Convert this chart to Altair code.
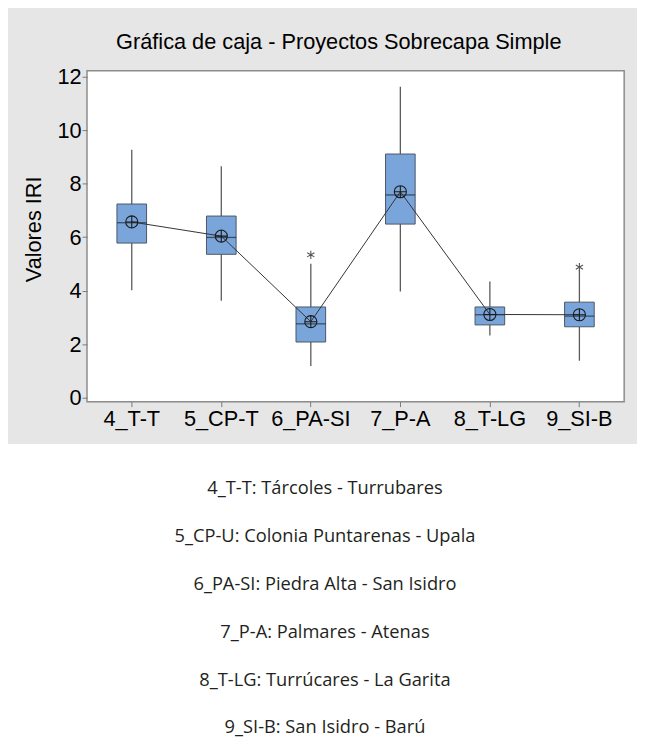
import altair as alt
import pandas as pd

cats = ["4_T-T", "5_CP-T", "6_PA-SI", "7_P-A", "8_T-LG", "9_SI-B"]
whisk_lo = [4.02, 3.62, 1.18, 3.97, 2.32, 1.38]
q1 = [5.78, 5.36, 2.08, 6.49, 2.72, 2.65]
median = [6.54, 5.99, 2.76, 7.58, 3.10, 3.05]
q3 = [7.24, 6.79, 3.39, 9.11, 3.39, 3.57]
whisk_hi = [9.27, 8.65, 5.01, 11.63, 4.34, 4.78]
mean = [6.57, 6.04, 2.84, 7.70, 3.11, 3.10]
out_cat = ["6_PA-SI", "9_SI-B"]
out_val = [5.34, 4.88]
legend_lines = [
    "4_T-T: Tárcoles - Turrubares",
    "5_CP-U: Colonia Puntarenas - Upala",
    "6_PA-SI: Piedra Alta - San Isidro",
    "7_P-A: Palmares - Atenas",
    "8_T-LG: Turrúcares - La Garita",
    "9_SI-B: San Isidro - Barú",
]

df = pd.DataFrame(dict(cat=cats, lo=whisk_lo, q1=q1, med=median, q3=q3, hi=whisk_hi, mean=mean))
df_out = pd.DataFrame(dict(cat=out_cat, val=out_val))
df_txt = pd.DataFrame(dict(line=list(range(len(legend_lines))), txt=legend_lines))
one = pd.DataFrame({"a": [0]})

FONT = "Liberation Sans"
W, H = 544, 335

X = alt.X("cat:N", sort=cats, title=None,
          scale=alt.Scale(paddingInner=0, paddingOuter=0),
          axis=alt.Axis(labelAngle=0, labelFont=FONT, labelFontSize=22, labelColor="black",
                        tickColor="#7a7a7a", tickSize=5, labelPadding=2, domain=False,
                        grid=False, zindex=1))
yscale = alt.Scale(domain=[-0.15, 12.22], nice=False, zero=False)
yaxis = alt.Axis(values=[0, 2, 4, 6, 8, 10, 12], labelFont=FONT, labelFontSize=22,
                 labelColor="black", tickColor="#7a7a7a", tickSize=5, labelPadding=1,
                 domain=False, grid=False, titleFont=FONT, titleFontSize=22,
                 titleFontWeight="normal", titleColor="black", titlePadding=12,
                 titleY=160, zindex=1)


def Y(field):
    return alt.Y(field, scale=yscale, axis=yaxis, title="Valores IRI")


base = alt.Chart(df)

# white area below the grey panel (canvas background is grey)
white_below = alt.Chart(one).mark_rect(color="white").encode(
    x=alt.value(-90), x2=alt.value(570), y=alt.value(378), y2=alt.value(720))
frame = alt.Chart(one).mark_rect(fill="white", stroke="#8c8c8c", strokeWidth=1.5).encode(
    x=alt.value(0), x2=alt.value(W), y=alt.value(0), y2=alt.value(H))

whisk1 = base.mark_rule(color="#5a5a5a", strokeWidth=1.3).encode(x=X, y=Y("lo:Q"), y2="q1:Q")
whisk2 = base.mark_rule(color="#5a5a5a", strokeWidth=1.3).encode(x=X, y=Y("q3:Q"), y2="hi:Q")
boxes = base.mark_bar(size=30, color="#7aa5da", stroke="#4a5666", strokeWidth=1).encode(
    x=X, y=Y("q1:Q"), y2="q3:Q")
meds = base.mark_tick(size=30, thickness=1.3, color="#1e2a36").encode(x=X, y=Y("med:Q"))
mline = base.mark_line(color="#333333", strokeWidth=1).encode(x=X, y=Y("mean:Q"))
msym = base.mark_point(
    shape="M1,0A1,1 0 1,1 -1,0A1,1 0 1,1 1,0M-1,0L1,0M0,-1L0,1",
    size=150, filled=False, color="#1a1a1a", strokeWidth=1.1, opacity=1).encode(
    x=X, y=Y("mean:Q"))
outl = alt.Chart(df_out).mark_point(
    shape="M0,-1L0,1M-0.87,-0.5L0.87,0.5M-0.87,0.5L0.87,-0.5",
    size=70, filled=False, color="#555555", strokeWidth=1.1, opacity=1).encode(
    x=X, y=Y("val:Q"))

inner = alt.layer(whisk1, whisk2, boxes, meds, mline, msym, outl)

txt = alt.Chart(df_txt).mark_text(font="Open Sans", fontSize=18.5, color="#231f20",
                                  align="center", baseline="middle").encode(
    x=alt.value(241),
    y=alt.Y("line:Q", scale=alt.Scale(domain=[0, 5], range=[423, 665]), axis=None),
    text="txt:N")

chart = alt.layer(white_below, frame, inner, txt).resolve_scale(y="independent").properties(
    width=W, height=H,
    padding={"left": 80, "top": 59, "right": 13, "bottom": 338},
    autosize=alt.AutoSizeParams(type="none"),
    title=alt.TitleParams("Gráfica de caja - Proyectos Sobrecapa Simple", font=FONT,
                          fontSize=22, fontWeight="normal", color="black",
                          anchor="middle", frame="group", baseline="alphabetic",
                          offset=15, dx=-17, dy=20, zindex=1),
).configure_view(stroke=None).configure(background="#e6e6e6")

chart.save("out.html", embed_options={"renderer": "svg", "actions": False})
